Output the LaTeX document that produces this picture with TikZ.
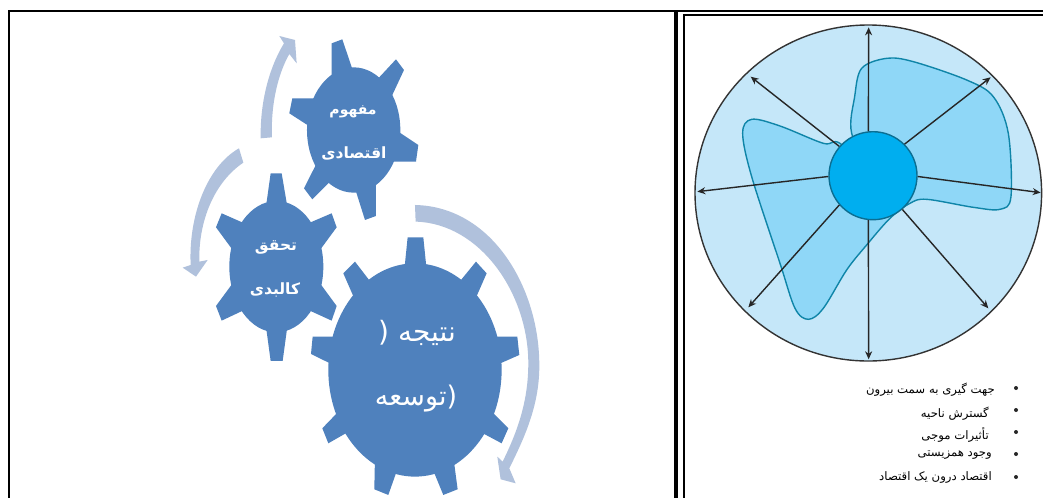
\documentclass[tikz,border=0pt]{standalone}
\usepackage{fontspec}
\usetikzlibrary{arrows.meta,shapes.geometric}
\TeXXeTstate=1
\newfontfamily\arabicfont[Script=Arabic]{DejaVu Sans}
\definecolor{gearblue}{HTML}{4F81BD}
\definecolor{arcblue}{HTML}{B0C1DC}
\definecolor{discblue}{HTML}{C5E7F9}
\definecolor{bladeblue}{HTML}{8FD7F7}
\definecolor{bladeline}{HTML}{0F85A8}
\definecolor{hubblue}{HTML}{00AEEF}
\definecolor{hubline}{HTML}{0B6E92}
\tikzset{
  gear/.style={fill=gearblue,draw=none},
  arcarrow/.style={fill=arcblue,draw=none},
  gearlabel/.style={text=white,inner sep=0pt,anchor=center},
  ray/.style={draw=black!85,line width=1.4pt,-{Stealth[length=8pt,width=7pt]}},
  listitem/.style={text=black,font=\arabicfont\fontsize{11.7}{13}\selectfont,inner sep=0pt,anchor=east},
  listdot/.style={circle,fill=black!85,inner sep=0pt,minimum size=4pt},
  rule/.style={draw=black,line cap=butt}
}
\begin{document}
\begin{tikzpicture}[x=1pt,y=-1pt]
\useasboundingbox (0,0) rectangle (1043,498);
\fill[white] (0,0) rectangle (1043,498);
% table rules
\draw[rule,line width=2pt] (8,11) -- (1043,11);
\draw[rule,line width=2pt] (9,11) -- (9,498);
\draw[rule,line width=4pt] (676,11) -- (676,498);
\draw[rule,line width=2pt] (684,15) -- (1043,15);
\draw[rule,line width=2pt] (684,14) -- (684,498);
% gears and arcs, in reference zoom units
\begin{scope}[shift={(160,0)},x=0.3333pt,y=-0.3333pt]
\fill[arcarrow] (302,415) .. controls (300,290) and (335,190) .. (372,130) -- (358,108) -- (405,120) -- (410,190) -- (388,162) .. controls (355,220) and (332,310) .. (336,412) -- cycle;
\fill[arcarrow] (237,445) .. controls (140,500) and (85,650) .. (92,795) -- (68,803) -- (108,830) -- (143,780) -- (118,785) .. controls (115,660) and (165,545) .. (250,488) -- cycle;
\fill[arcarrow] (765,615) .. controls (1000,620) and (1140,870) .. (1138,1100) .. controls (1138,1220) and (1090,1320) .. (1048,1405) -- (1067,1450) -- (1022,1438) -- (1012,1370) -- (1028,1385) .. controls (1075,1290) and (1105,1200) .. (1105,1090) .. controls (1105,880) and (960,670) .. (767,665) -- cycle;
% gear 1
\fill[gear] (581,390) ellipse [x radius=140,y radius=188];
\fill[gear] (515,230) -- (515,130) -- (547,118) -- (578,210) -- cycle;
\fill[gear] (655,235) -- (708,178) -- (732,210) -- (690,300) -- cycle;
\fill[gear] (715,395) -- (775,435) -- (768,485) -- (695,485) -- cycle;
\fill[gear] (648,540) -- (648,648) -- (615,660) -- (585,565) -- cycle;
\fill[gear] (515,540) -- (457,598) -- (432,565) -- (475,480) -- cycle;
\fill[gear] (450,380) -- (388,340) -- (397,295) -- (470,295) -- cycle;
% gear 2
\fill[gear] (349,800) ellipse [x radius=141,y radius=197];
\fill[gear] (318,620) -- (332,520) -- (365,520) -- (382,620) -- cycle;
\fill[gear] (445,670) -- (515,640) -- (530,682) -- (480,750) -- cycle;
\fill[gear] (480,850) -- (530,918) -- (515,962) -- (445,930) -- cycle;
\fill[gear] (382,980) -- (368,1083) -- (332,1083) -- (318,980) -- cycle;
\fill[gear] (253,930) -- (185,962) -- (168,918) -- (218,850) -- cycle;
\fill[gear] (218,750) -- (168,682) -- (185,640) -- (253,670) -- cycle;
% gear 3
\fill[gear] (765,1110) ellipse [x radius=260,y radius=320];
\fill[gear] (733,810) -- (743,712) -- (790,712) -- (800,810) -- cycle;
\fill[gear] (895,850) -- (948,785) -- (980,820) -- (945,900) -- cycle;
\fill[gear] (990,1010) -- (1072,1010) -- (1078,1065) -- (1010,1095) -- cycle;
\fill[gear] (990,1230) -- (1045,1285) -- (1025,1330) -- (950,1290) -- cycle;
\fill[gear] (880,1370) -- (893,1468) -- (850,1485) -- (815,1400) -- cycle;
\fill[gear] (715,1400) -- (685,1485) -- (643,1468) -- (645,1370) -- cycle;
\fill[gear] (575,1290) -- (505,1330) -- (487,1285) -- (540,1230) -- cycle;
\fill[gear] (520,1095) -- (453,1062) -- (458,1010) -- (540,1010) -- cycle;
\fill[gear] (585,900) -- (550,820) -- (585,785) -- (635,850) -- cycle;
\end{scope}
\node[gearlabel,font=\arabicfont\bfseries\fontsize{14}{16}\selectfont] (g1a) at (353,112) {\beginR مفهوم\endR};
\node[gearlabel,font=\arabicfont\bfseries\fontsize{15.5}{18}\selectfont] (g1b) at (354,153) {\beginR اقتصادی\endR};
\node[gearlabel,font=\arabicfont\bfseries\fontsize{15.5}{18}\selectfont] (g2a) at (276,247) {\beginR تحقق\endR};
\node[gearlabel,font=\arabicfont\bfseries\fontsize{15.5}{18}\selectfont] (g2b) at (275,290) {\beginR کالبدی\endR};
\node[gearlabel,font=\arabicfont\fontsize{28}{32}\selectfont] (g3a) at (417,333) {\beginR نتیجه (\endR};
\node[gearlabel,font=\arabicfont\fontsize{27}{32}\selectfont] (g3b) at (416,399) {\beginR (توسعه\endR};
% disc
\node[ellipse,draw=black!80,fill=discblue,line width=1.4pt,minimum width=346.6pt,minimum height=336pt,inner sep=0pt] (disc) at (868.3,193) {};
\begin{scope}[shift={(680,0)},x=0.3333pt,y=-0.3333pt]
\draw[fill=bladeblue,draw=bladeline,line width=1.4pt] plot[smooth cycle,tension=0.55] coordinates {(515,400) (524,290) (545,205) (620,175) (700,185) (860,240) (940,290) (985,400) (993,590) (960,628) (880,622) (740,598) (690,610) (630,655) (560,735) (500,810) (430,925) (385,958) (345,925) (300,790) (215,530) (188,400) (215,358) (300,378) (430,430) (480,430) (579,527)};
\coordinate (tn) at (566,82);
\coordinate (tne) at (932,232);
\coordinate (te) at (1082,578);
\coordinate (tse) at (925,925);
\coordinate (ts) at (566,1078);
\coordinate (tsw) at (205,922);
\coordinate (tw) at (52,575);
\coordinate (tnw) at (212,230);
\end{scope}
\node[circle,draw=hubline,fill=hubblue,line width=1.4pt,minimum size=88pt,inner sep=0pt] (hub) at (873,175.7) {};
\draw[ray] (hub.96) -- (tn);
\draw[ray] (hub.45) -- (tne);
\draw[ray] (hub.-1) -- (te);
\draw[ray] (hub.-49) -- (tse);
\draw[ray] (hub.264) -- (ts);
\draw[ray] (hub.221) -- (tsw);
\draw[ray] (hub.181) -- (tw);
\draw[ray] (hub.139) -- (tnw);
% list
\node[listitem] (l1) at (995,390) {\beginR جهت گیری به سمت بیرون\endR};
\node[listitem] (l2) at (989,414) {\beginR گسترش ناحیه\endR};
\node[listitem] (l3) at (989,435) {\beginR تأثیرات موجی\endR};
\node[listitem] (l4) at (992,455) {\beginR وجود همزیستی\endR};
\node[listitem] (l5) at (992,477) {\beginR اقتصاد درون یک اقتصاد\endR};
\node[listdot] (d1) at (1016,388) {};
\node[listdot] (d2) at (1016,410) {};
\node[listdot] (d3) at (1016,432) {};
\node[listdot] (d4) at (1016,454) {};
\node[listdot] (d5) at (1016,477) {};
\end{tikzpicture}
\end{document}
